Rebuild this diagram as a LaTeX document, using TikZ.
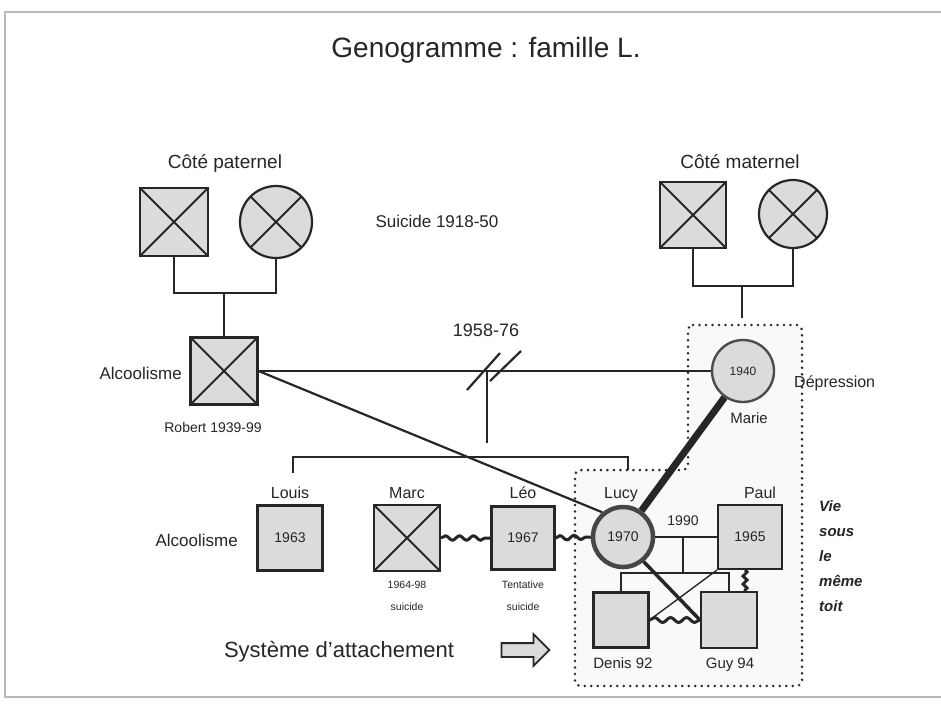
\documentclass[tikz,border=0pt]{standalone}
\usepackage{fontspec}
\setmainfont{Liberation Sans}
\usetikzlibrary{shapes.arrows,decorations.pathmorphing}
\definecolor{gfill}{gray}{0.86}
\definecolor{ink}{gray}{0.15}
\begin{document}
\begin{tikzpicture}[x=1pt,y=-1pt,
  every node/.style={text=ink},
  lbl/.style={font=\fontsize{#1}{#1}\selectfont, inner sep=0},
  sq/.style={draw=ink, line width=2.2pt, fill=gfill, minimum size=#1, inner sep=0, font=\fontsize{14}{14}\selectfont},
  ci/.style={circle, draw=ink, line width=2.2pt, fill=gfill, minimum size=#1, inner sep=0, font=\fontsize{14}{14}\selectfont},
  crossed/.style={path picture={\draw[ink, line width=1.9pt]
      (path picture bounding box.north west) -- (path picture bounding box.south east)
      (path picture bounding box.south west) -- (path picture bounding box.north east);}},
  fam/.style={draw=ink, line width=2.8pt},
  thin/.style={draw=ink, line width=1.4pt},
  wavy/.style={draw=ink, line width=3pt, decorate, decoration={snake, segment length=14pt, amplitude=2.2pt}},
  dotbox/.style={draw=ink, line width=2.8pt, dash pattern=on 0pt off 6.5pt, line cap=round, fill=gray!5, rounded corners=5pt}
]
\useasboundingbox (0,0) rectangle (941,705);
\fill[white] (0,0) rectangle (941,705);
\draw[gray!55, line width=1.4pt] (5,12) rectangle (948,697);

% dotted region
\path[dotbox] (688,325) -- (802,325) -- (802,686) -- (575,686) -- (575,470) -- (688,470) -- cycle;

% title
\node[lbl=28] (title) at (486,50) {Genogramme : famille L.};

% grandparents
\node[lbl=19] (cpat) at (225,163) {Côté paternel};
\node[lbl=19] (cmat) at (740,162) {Côté maternel};
\node[sq=68, crossed] (pgf) at (174,222) {};
\node[ci=72, crossed] (pgm) at (276,222) {};
\node[lbl=17] (suic) at (437,221) {Suicide 1918-50};
\node[sq=66, crossed] (mgf) at (693,215) {};
\node[ci=68, crossed] (mgm) at (793,214) {};

\coordinate (pj) at (224,293);
\path[fam] (pgf.south) |- (pj) -| (pgm.south);
\coordinate (mj) at (742,286);
\coordinate (mend) at (742,318);
\path[fam] (mgf.south) |- (mj) -| (mgm.south);
\path[fam] (mj) -- (mend);

% Robert
\node[sq=67, crossed] (robert) at (224,371) {};
\path[fam] (pj) -- (robert.north);
\node[lbl=17, anchor=east] (alc1) at (182,373) {Alcoolisme};
\node[lbl=14] (robl) at (213,427) {Robert 1939-99};

% Marie
\node[circle, draw=gray!60!black, line width=2.4pt, fill=gfill, minimum size=62, inner sep=0, font=\fontsize{12}{12}\selectfont] (marie) at (743,371) {1940};
\node[lbl=15] (mariel) at (749,418) {Marie};
\node[lbl=16, anchor=west] (dep) at (794,383) {Dépression};

% Robert - Marie union (divorced)
\path[fam] (robert.east) -- (marie.west);
\coordinate (div) at (487,371);
\coordinate (divend) at (487,443);
\path[fam, line width=2.2pt] ([shift={(-20,19)}]div) -- ++(33,-37);
\path[fam, line width=2.2pt] ([shift={(3,10)}]div) -- ++(31,-30);
\path[fam] (div) -- (divend);
\node[lbl=18] (yrs) at (486,330) {1958-76};

% children row
\node[sq=65] (louis) at (290,538) {1963};
\node[sq=66, crossed] (marc) at (407,538) {};
\node[sq=63] (leo) at (523,538) {1967};
\node[circle, draw=gray!55!black, line width=4.5pt, fill=gfill, minimum size=60, inner sep=0, font=\fontsize{14}{14}\selectfont] (lucy) at (623,537) {1970};
\node[sq=64] (paul) at (750,537) {1965};

\node[lbl=16, anchor=base] at (290,498) (louisl) {Louis};
\node[lbl=16, anchor=base] at (407,498) (marcl) {Marc};
\node[lbl=16, anchor=base] at (523,498) (leol) {Léo};
\node[lbl=16, anchor=base] at (621,498) (lucyl) {Lucy};
\node[lbl=16, anchor=base] at (760,498) (paull) {Paul};
\node[lbl=17, anchor=east] (alc2) at (238,540) {Alcoolisme};
\node[lbl=10.5, align=center, font=\fontsize{10.5}{22}\selectfont] (marcd) at (407,596) {1964-98\\suicide};
\node[lbl=10.5, align=center, font=\fontsize{10.5}{22}\selectfont] (leod) at (523,596) {Tentative\\suicide};

\coordinate (kla) at (293,473);
\coordinate (kl) at (293,457);
\coordinate (kr) at (628,457);
\coordinate (krb) at (628,470);
\path[fam] (kla) -- (kl) -- (kr) -- (krb);

% Robert - Lucy diagonal
\path[fam, line width=2.2pt] (robert.east) -- (lucy.130);

% Marie - Lucy strong bond
\draw[line width=7pt, gray!30!black] (marie.235) -- (lucy.55);

% conflictual links
\path[wavy] (marc.east) -- (leo.west);
\path[wavy] (leo.east) -- (lucy.west);

% Lucy - Paul union
\path[thin] (lucy.east) -- (paul.west);
\node[lbl=14] (yr90) at (683,521) {1990};
\coordinate (cm) at (683,537);
\coordinate (ch) at (683,573);

\node[sq=55] (denis) at (621,620) {};
\node[sq=56] (guy) at (729,620) {};
\node[lbl=15, anchor=base] (denisl) at (623,668) {Denis 92};
\node[lbl=15, anchor=base] (guyl) at (730,668) {Guy 94};

\path[thin] (cm) -- (ch);
\path[thin] (denis.north) |- (ch) -| (guy.north);
\path[thin] (paul.south west) -- (denis.east);
\path[fam, line width=3.5pt] (lucy.-50) -- (guy.west);
\path[wavy, decoration={snake, segment length=16pt, amplitude=2.5pt}] (denis.east) -- (guy.west);
\path[draw=ink, line width=3pt, decorate, decoration={zigzag, segment length=8pt, amplitude=2pt}] ([xshift=-5]paul.south) -- ([xshift=16]guy.north);

% side label
\node[anchor=north west, align=left, inner sep=0, font=\fontsize{15}{25}\selectfont\bfseries\itshape] (vie) at (819,500) {Vie\\sous\\le\\même\\toit};

% attachment system
\node[lbl=22] (sys) at (339,652) {Système d’attachement};
\node[single arrow, draw=ink, line width=1.8pt, fill=gfill, minimum height=48, inner xsep=0, inner ysep=6, single arrow head extend=9, single arrow tip angle=90] (arr) at (522,650) {};
\end{tikzpicture}
\end{document}
